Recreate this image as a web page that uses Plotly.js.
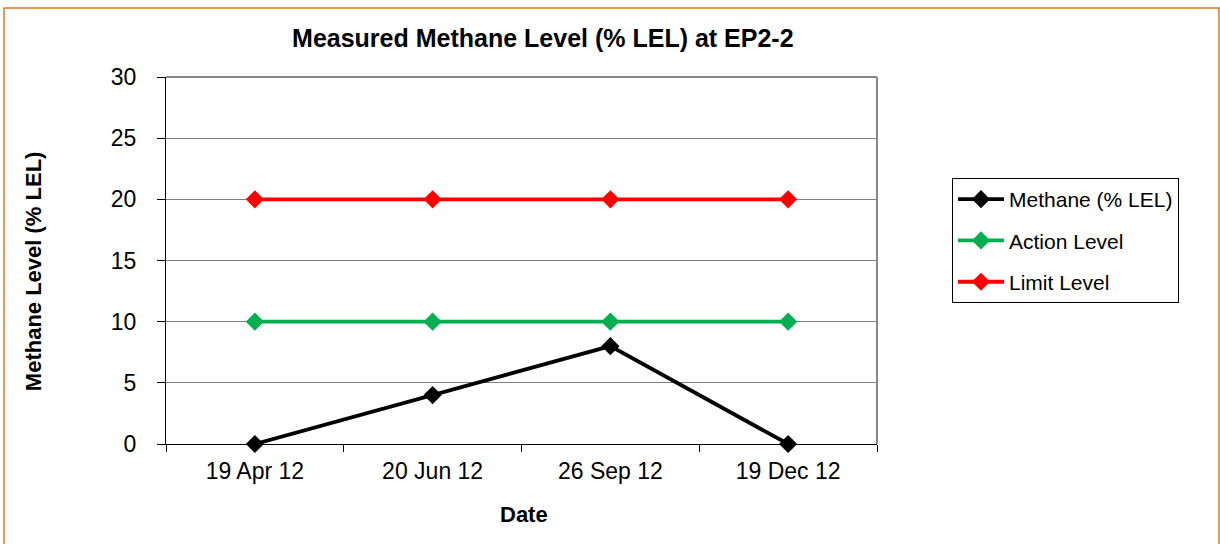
<!DOCTYPE html>
<html><head><meta charset="utf-8">
<script src="https://cdn.plot.ly/plotly-3.0.1.min.js"></script>
<style>html,body{margin:0;padding:0;background:#fff}</style>
</head><body><div id="chart" style="width:1220px;height:544px"></div>
<script>
const dates = ["19 Apr 12", "20 Jun 12", "26 Sep 12", "19 Dec 12"];
const methane = [0, 4, 8, 0];
const actionLevel = [10, 10, 10, 10];
const limitLevel = [20, 20, 20, 20];
const yTicks = [0, 5, 10, 15, 20, 25, 30];

const font = "Liberation Sans, Arial, sans-serif";
function tr(name, y, color, grp) {
  return {x: dates, y: y, name: name, type: "scatter", mode: "lines+markers",
    legendgroup: grp, cliponaxis: false,
    line: {color: color, width: 3.8},
    marker: {symbol: "diamond", size: 14, color: color}};
}
const data = [
  tr("Methane (% LEL)", methane, "#000000", "a"),
  tr("Action Level", actionLevel, "#00B050", "b"),
  tr("Limit Level", limitLevel, "#FF0000", "c")
];
const layout = {
  width: 1220, height: 544,
  margin: {l: 166, r: 343, t: 77, b: 100},
  paper_bgcolor: "#fff", plot_bgcolor: "#fff",
  font: {family: font, size: 21, color: "#000"},
  title: {text: "<b>Measured Methane Level (% LEL) at EP2-2</b>", font: {size: 25},
    xref: "paper", x: 0.530, xanchor: "center", yref: "container", y: 0.93, yanchor: "middle"},
  xaxis: {type: "category", range: [-0.5, 3.5], tickson: "boundaries",
    ticks: "outside", ticklen: 7, tickcolor: "#000", showgrid: false,
    showline: true, linecolor: "#000", linewidth: 1,
    tickfont: {size: 23}, ticklabelstandoff: 6, fixedrange: true},
  yaxis: {range: [0, 30], tickvals: yTicks, ticks: "outside", ticklen: 8, tickcolor: "#000",
    showgrid: true, gridcolor: "#808080", gridwidth: 1,
    showline: true, linecolor: "#000", linewidth: 1, zeroline: false,
    tickfont: {size: 23}, ticklabelstandoff: 16},
  annotations: [
    {text: "<b>Methane Level (% LEL)</b>", xref: "paper", yref: "paper",
      x: -0.187, y: 0.471, textangle: -90, showarrow: false, font: {size: 22},
      xanchor: "center", yanchor: "middle"},
    {text: "<b>Date</b>", xref: "paper", yref: "paper",
      x: 0.503, y: -0.193, showarrow: false, font: {size: 22},
      xanchor: "center", yanchor: "middle"}
  ],
  showlegend: true,
  legend: {x: 1.1055, y: 0.7248, xanchor: "left", yanchor: "top",
    bordercolor: "#000", borderwidth: 1, bgcolor: "#fff",
    font: {size: 21}, traceorder: "grouped", tracegroupgap: 11, itemwidth: 46},
  shapes: [
    {type: "line", xref: "paper", yref: "paper", x0: 1, x1: 1, y0: 0, y1: 1,
      line: {color: "#888888", width: 2}, layer: "below"},
    {type: "line", xref: "paper", yref: "paper", x0: 0, x1: 1, y0: 1, y1: 1,
      line: {color: "#888888", width: 2}, layer: "below"},
    {type: "rect", xref: "paper", yref: "paper", x0: -0.2278, x1: 1.4810, y0: -0.28, y1: 1.188,
      line: {color: "#E07A1F", width: 1.5}, fillcolor: "rgba(0,0,0,0)"}
  ]
};
Plotly.newPlot("chart", data, layout, {displayModeBar: false, staticPlot: true});
</script></body></html>
